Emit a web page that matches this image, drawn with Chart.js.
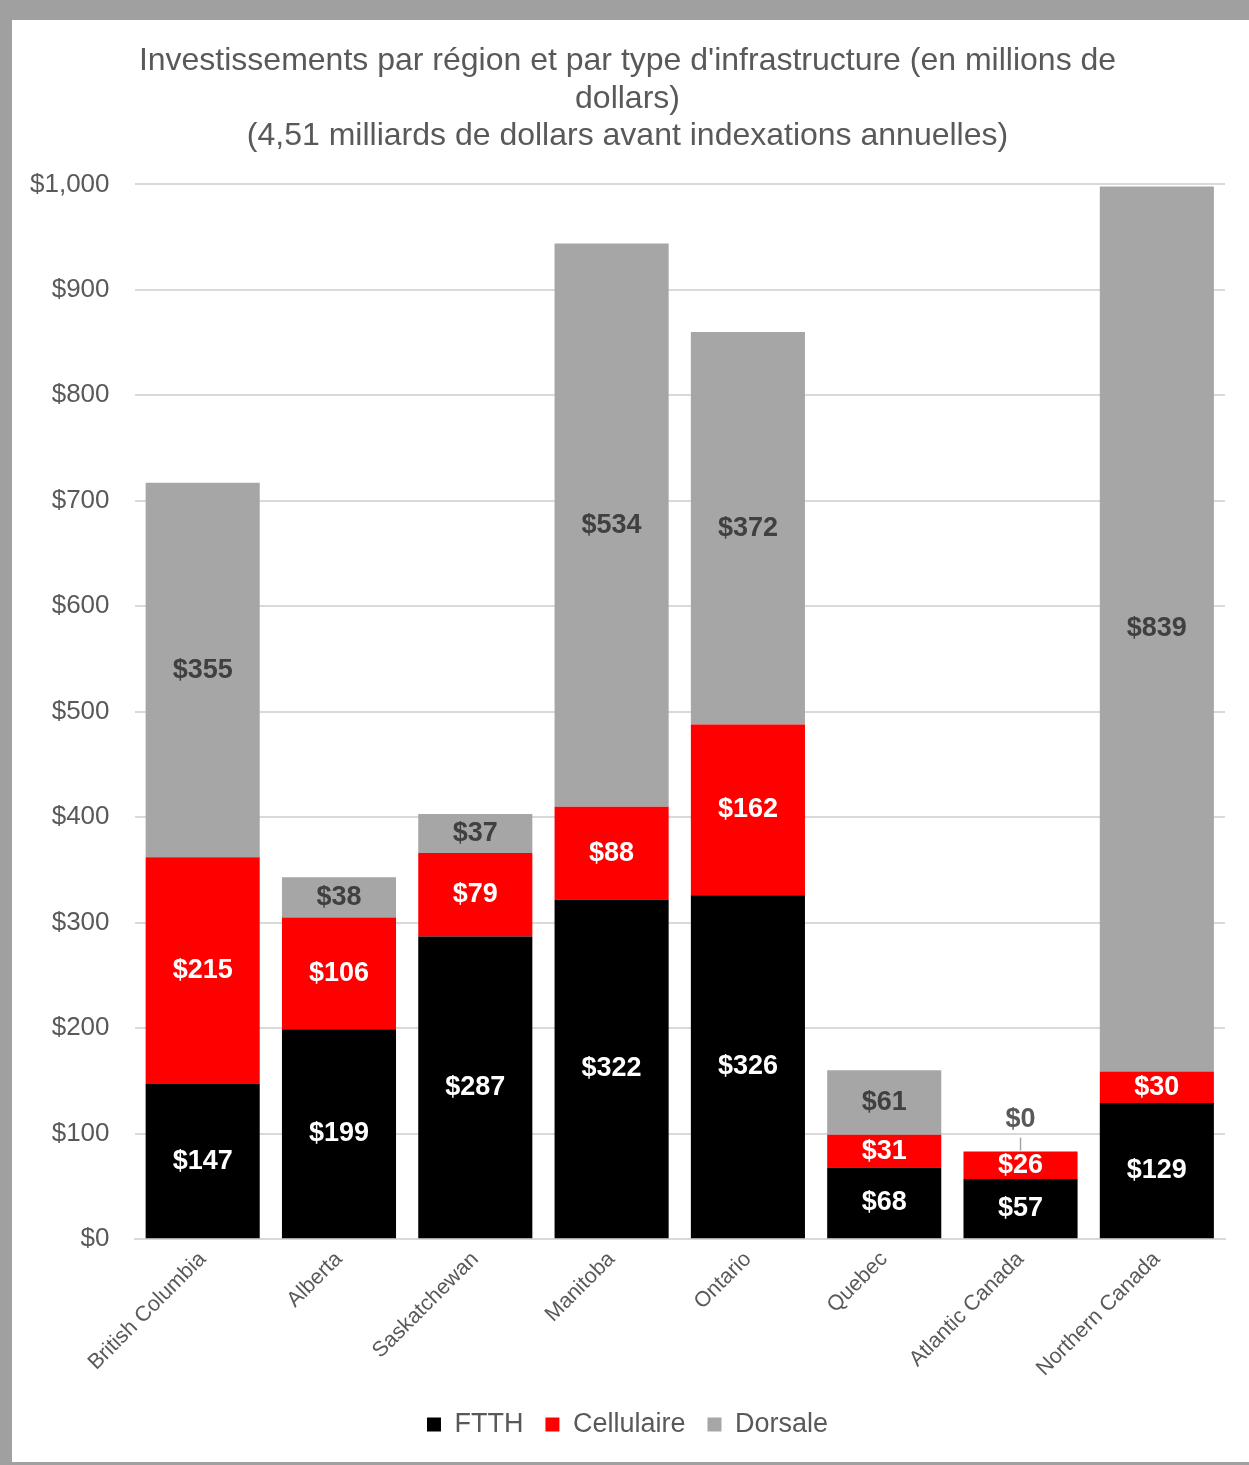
<!DOCTYPE html>
<html>
<head>
<meta charset="utf-8">
<script src="https://cdn.jsdelivr.net/npm/chart.js@4"></script>
<style>
  body { margin: 0; width: 1249px; height: 1465px; background: #a0a0a0; position: relative; overflow: hidden; }
  #frame { position: absolute; left: 12px; top: 20px; width: 1237px; height: 1442px; background: #fff; }
</style>
</head>
<body>
<div id="frame"><canvas id="myChart" width="1237" height="1442"></canvas></div>
<script>
// categories and values (millions de dollars)
let regions = ['British Columbia', 'Alberta', 'Saskatchewan', 'Manitoba', 'Ontario', 'Quebec', 'Atlantic Canada', 'Northern Canada'];
let ftth = [147, 199, 287, 322, 326, 68, 57, 129];
let cellulaire = [215, 106, 79, 88, 162, 31, 26, 30];
let dorsale = [355, 38, 37, 534, 372, 61, 0, 839];
let yTicks = [0, 100, 200, 300, 400, 500, 600, 700, 800, 900, 1000];

let titleLines = [
    "Investissements par région et par type d'infrastructure (en millions de",
    "dollars)",
    "(4,51 milliards de dollars avant indexations annuelles)"
];

const font = "'Liberation Sans', Arial, sans-serif";
const yPad = 25;

// labels in the middle of each segment
const barLabels = {
    id: 'barLabels',
    afterDatasetsDraw(chart) {
        let ctx = chart.ctx;
        ctx.save();
        ctx.font = 'bold 27px ' + font;
        ctx.textAlign = 'center';
        ctx.textBaseline = 'middle';
        chart.data.datasets.forEach((ds, i) => {
            let meta = chart.getDatasetMeta(i);
            meta.data.forEach((bar, j) => {
                let v = ds.data[j];
                ctx.fillStyle = ds.labelColor;
                if (v > 0) {
                    ctx.fillText('$' + v, bar.x, (bar.y + bar.base) / 2);
                } else {
                    // zero value: put label above the stack with a small leader line
                    ctx.fillStyle = '#595959';
                    ctx.fillText('$' + v, bar.x, bar.y - 32);
                    ctx.strokeStyle = '#a6a6a6';
                    ctx.lineWidth = 1.5;
                    ctx.beginPath();
                    ctx.moveTo(bar.x, bar.y - 14);
                    ctx.lineTo(bar.x, bar.y - 1);
                    ctx.stroke();
                }
            });
        });
        ctx.restore();
    }
};

new Chart(document.getElementById('myChart'), {
    type: 'bar',
    data: {
        labels: regions,
        datasets: [
            { label: 'FTTH', data: ftth, backgroundColor: '#000000', labelColor: '#ffffff' },
            { label: 'Cellulaire', data: cellulaire, backgroundColor: '#ff0000', labelColor: '#ffffff' },
            { label: 'Dorsale', data: dorsale, backgroundColor: '#a6a6a6', labelColor: '#404040' }
        ]
    },
    options: {
        responsive: false,
        animation: false,
        devicePixelRatio: 1,
        datasets: { bar: { barPercentage: 0.837, categoryPercentage: 1 } },
        layout: { padding: { left: 18, right: 24, top: 0, bottom: 14 } },
        scales: {
            x: {
                stacked: true,
                grid: { display: false, drawTicks: false },
                border: { color: '#d9d9d9', width: 2 },
                ticks: {
                    color: '#595959',
                    font: { family: font, size: 21.5 },
                    maxRotation: 45, minRotation: 45,
                    padding: 7.5
                },
                // rotated labels may hang past the plot edge, like the original
                afterFit(axis) { axis.paddingLeft = 0; axis.paddingRight = 0; }
            },
            y: {
                stacked: true,
                min: 0, max: 1000,
                afterBuildTicks(axis) { axis.ticks = yTicks.map(v => ({ value: v })); },
                // tick padding ends up counted twice in the width, take one off
                afterFit(axis) { axis.width -= yPad; },
                grid: { color: '#d9d9d9', lineWidth: 2, drawTicks: false },
                border: { display: false },
                ticks: {
                    color: '#595959',
                    font: { family: font, size: 26 },
                    padding: yPad,
                    callback: v => '$' + v.toLocaleString('en-US')
                }
            }
        },
        plugins: {
            title: {
                display: true,
                text: titleLines,
                color: '#595959',
                font: { family: font, size: 32, weight: 'normal', lineHeight: 1.16 },
                padding: { top: 23, bottom: 30 }
            },
            legend: {
                position: 'bottom',
                labels: {
                    color: '#595959',
                    font: { family: font, size: 27 },
                    boxWidth: 14, boxHeight: 14,
                    padding: 22
                }
            },
            tooltip: { enabled: false }
        }
    },
    plugins: [barLabels]
});
</script>
</body>
</html>
